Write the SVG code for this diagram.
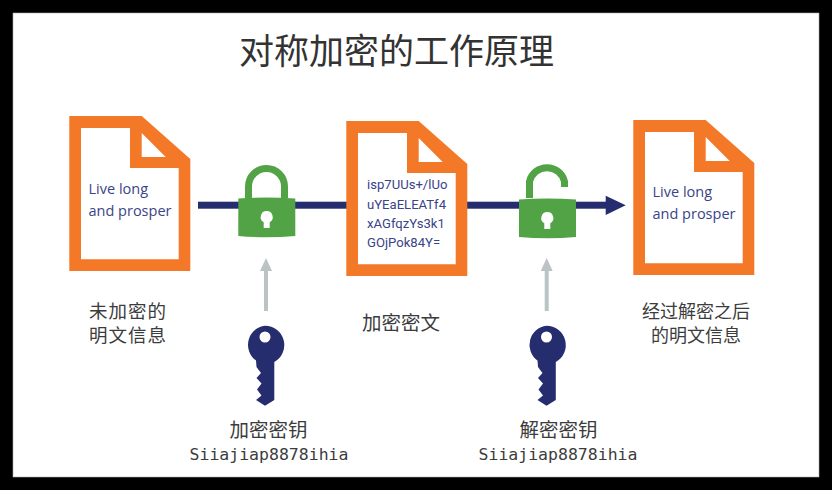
<svg xmlns="http://www.w3.org/2000/svg" width="832" height="490" viewBox="0 0 832 490">
<style>
.doc{fill:#f37827}.hole{fill:#fff}.lock{fill:#52a345}.ship{fill:none;stroke:#52a345;stroke-width:7}
.navy{fill:#262d6f}.grey{fill:#bcc3c5}
.cn{font-family:"Noto Sans CJK SC","Liberation Sans",sans-serif;fill:#3c3c3c;font-size:19.500px;text-anchor:middle}
.cn-s{font-size:18px}
.cn-p{font-size:18.500px;letter-spacing:1px}
.mono{font-family:"DejaVu Sans Mono",monospace;fill:#3c3c3c;font-size:16.500px;text-anchor:middle}
.doc-t{font-family:"Open Sans","Noto Sans",sans-serif;fill:#3a4487;font-size:14.500px}
.enc-t{font-family:Roboto,"Noto Sans",sans-serif;fill:#3a4487;font-size:13.100px}
</style>
<defs>
<path id="file" d="M0 0H72.400L121 43V155H0ZM11.700 12V143.300H109.400V52H60.700V12ZM72.400 17V41H96.400Z"/>
<path id="keyshape" fill-rule="evenodd" d="M0 -19.300A19.300 19.300 0 0 1 9.300 16.900V55L0 60.700L-9 55L-3.500 50.500L-8 44.500L-3.500 38.500L-8.500 33L-4 28L-8.500 22L-9 15.500A19.300 19.300 0 0 1 0 -19.300ZM0 -13.500A5.500 5.500 0 1 0 0 -2.500A5.500 5.500 0 1 0 0 -13.500Z"/>
<path id="body" d="M0 1Q28.500 -1 57 1V38.500Q28.500 41 0 38.500Z"/>
<path id="keyhole" d="M0 -6A6 6 0 0 1 3 5.200V11H-3V5.200A6 6 0 0 1 0 -6Z"/>
</defs>
<rect width="832" height="490" fill="#000"/>
<rect x="13" y="13" width="806" height="464" fill="#fff" stroke="#aaa" stroke-width="0.600"/>
<text x="396.500" y="64" font-family="'Noto Sans CJK SC',sans-serif" font-size="35" fill="#333" text-anchor="middle">对称加密的工作原理</text>
<g id="connectors">
<rect class="navy" x="198" y="201.700" width="150" height="7"/>
<rect class="navy" x="465" y="201.700" width="142" height="7"/>
<path class="navy" d="M605.700 195.700L625.700 205.200L605.700 215Z"/>
<path class="grey" d="M266 258L272 271H268V311H264V271H260Z"/>
<path class="grey" d="M546.700 258L552.700 271H548.700V311H544.700V271H540.700Z"/>
</g>
<g id="doc-plain"><use href="#file" class="doc" x="69.300" y="116" fill-rule="evenodd"/>
<text class="doc-t" x="88.500" y="194">Live long</text><text class="doc-t" x="88.500" y="216">and prosper</text></g>
<g id="doc-cipher"><use href="#file" class="doc" x="346.300" y="121" fill-rule="evenodd"/>
<text class="enc-t" x="367" y="189">isp7UUs+/lUo</text><text class="enc-t" x="367" y="208.500">uYEaELEATf4</text><text class="enc-t" x="367" y="228">xAGfqzYs3k1</text><text class="enc-t" x="367" y="247">GOjPok84Y=</text></g>
<g id="doc-decrypted"><use href="#file" class="doc" x="633.300" y="120" fill-rule="evenodd"/>
<text class="doc-t" x="652.500" y="197">Live long</text><text class="doc-t" x="652.500" y="219">and prosper</text></g>
<g id="lock-closed"><path class="ship" d="M248.500 198V186.500A18 18 0 0 1 284.500 186.500V198"/><use href="#body" class="lock" x="238.300" y="197.500"/><use href="#keyhole" class="hole" x="266.700" y="217"/></g>
<g id="lock-open"><path class="ship" d="M529.500 198V181.500A18 18 0 0 1 564.500 181.500V187"/><use href="#body" class="lock" x="519" y="198.500"/><use href="#keyhole" class="hole" x="547.300" y="218"/></g>
<g id="key-encrypt"><use href="#keyshape" class="navy" x="265" y="345"/></g>
<g id="key-decrypt"><use href="#keyshape" class="navy" x="546.500" y="345"/></g>
<g id="label-plain"><text class="cn cn-p" x="128" y="318">未加密的</text><text class="cn cn-p" x="128" y="342">明文信息</text></g>
<g id="label-cipher"><text class="cn" x="401" y="330">加密密文</text></g>
<g id="label-decrypted"><text class="cn cn-s" x="696" y="318">经过解密之后</text><text class="cn cn-s" x="696" y="342">的明文信息</text></g>
<g id="label-enc-key"><text class="cn" x="268.500" y="437">加密密钥</text><text class="mono" x="269" y="460">Siiajiap8878ihia</text></g>
<g id="label-dec-key"><text class="cn" x="558.500" y="437">解密密钥</text><text class="mono" x="558" y="460">Siiajiap8878ihia</text></g>
</svg>
